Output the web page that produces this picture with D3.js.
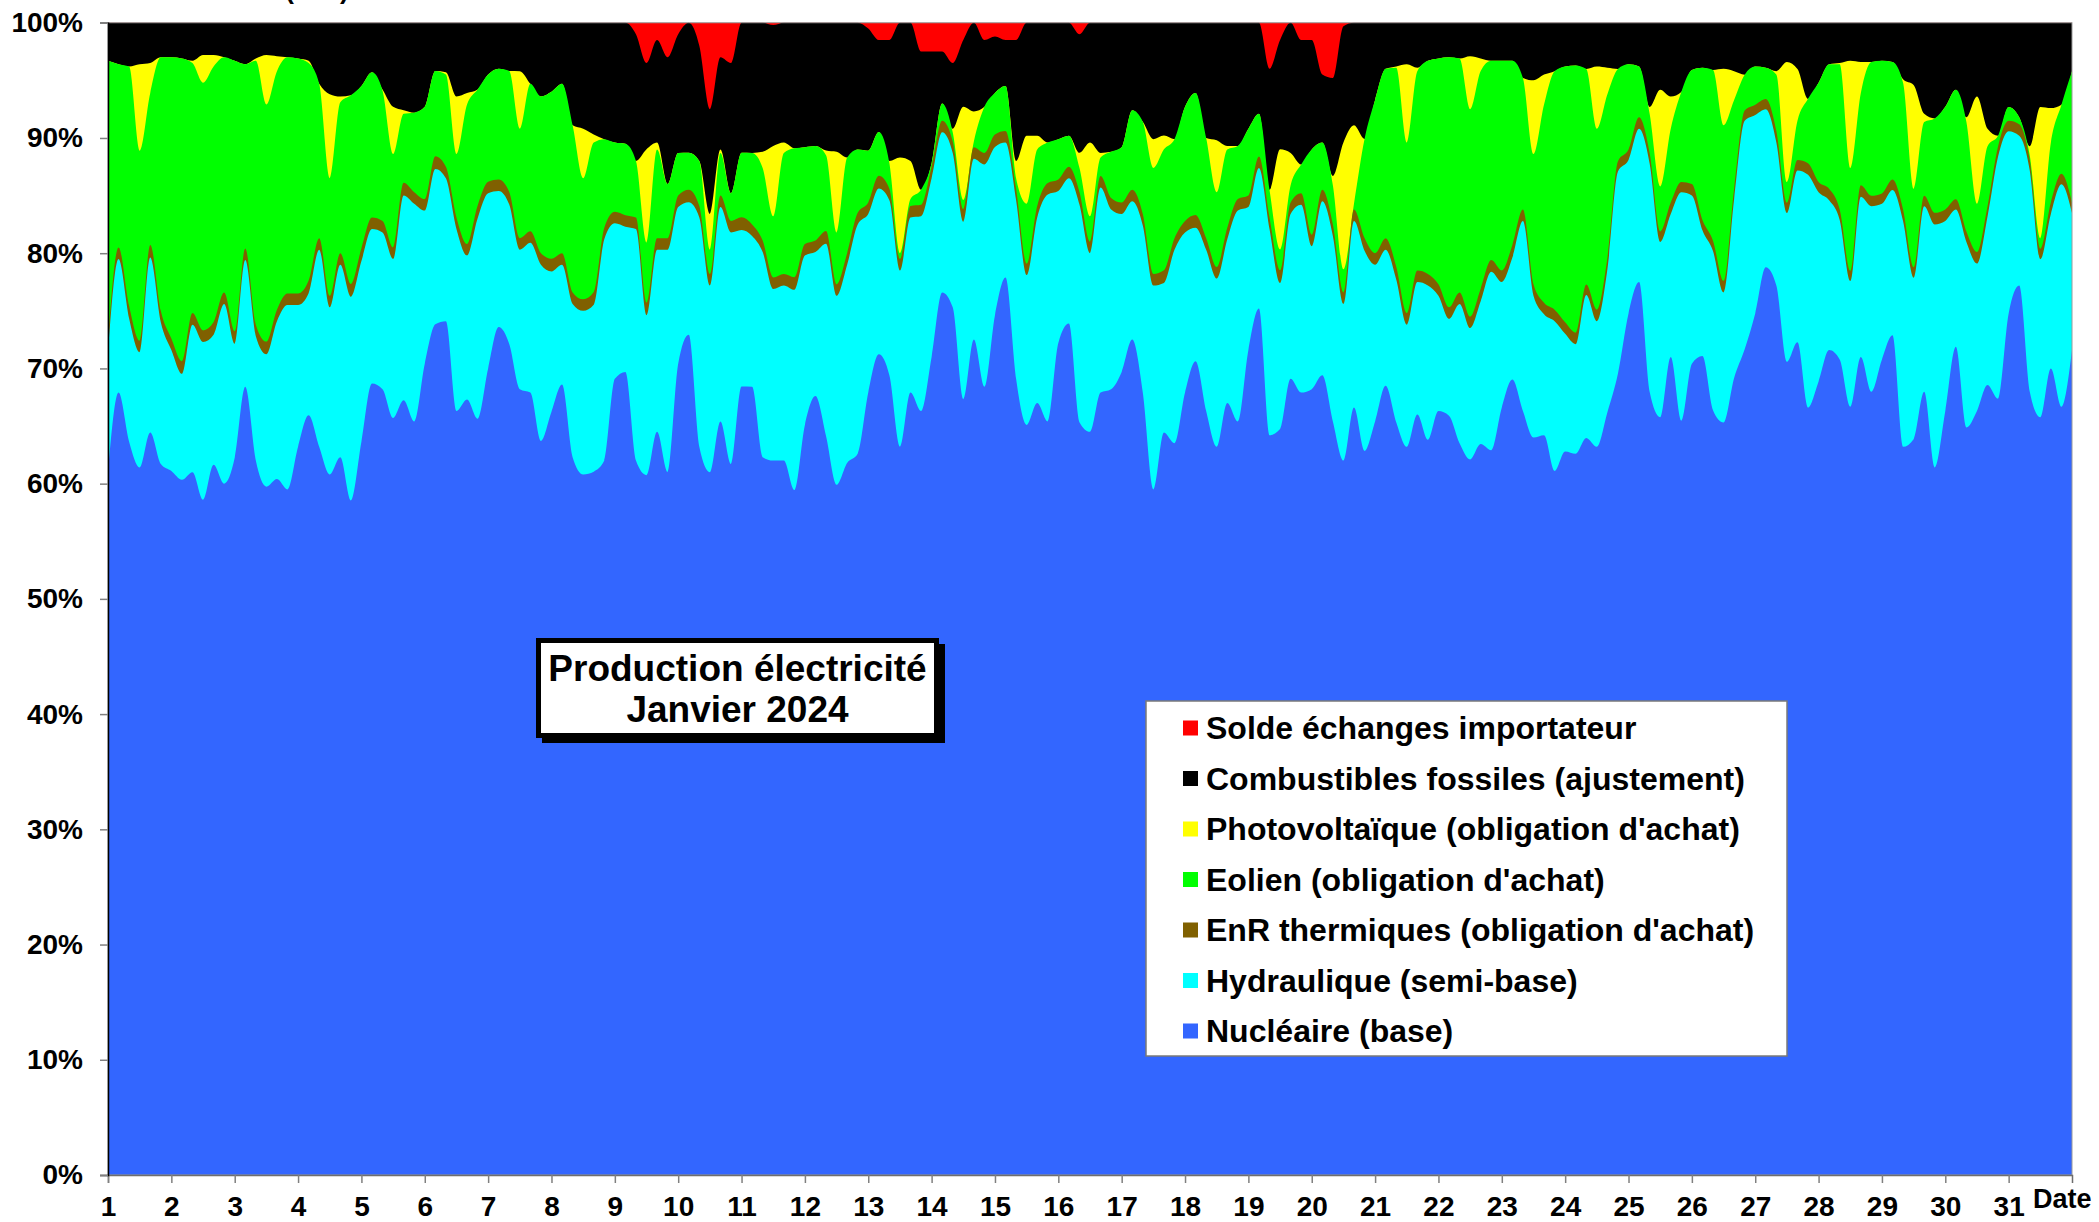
<!DOCTYPE html>
<html><head><meta charset="utf-8">
<script src="https://cdn.jsdelivr.net/npm/d3@7"></script>
<style>
body{margin:0;background:#fff;}
svg{display:block;font-family:"Liberation Sans",Arial,Helvetica,sans-serif;font-weight:bold;}
</style></head><body>
<svg id="chart" width="2099" height="1222"></svg>
<script>
// ---------- DATA (shares in %, sampled every 4 hours, Jan 1 00h -> Feb 1 00h) ----------
const dayLabels = ["1","2","3","4","5","6","7","8","9","10","11","12","13","14","15","16","17","18","19","20","21","22","23","24","25","26","27","28","29","30","31"];
const sampleHours = [0,4,8,12,16,20];
const yTickLabels = ["0%","10%","20%","30%","40%","50%","60%","70%","80%","90%","100%"];

const nuclear = [
61.0,67.9,63.7,61.4,64.5,61.7, 61.1,60.4,61.0,58.6,61.7,60.0, 62.3,68.4,62.0,59.8,60.4,59.5,
63.2,66.0,63.2,60.8,62.3,58.6, 63.7,68.7,68.2,65.7,67.3,65.4, 70.4,73.9,74.1,66.3,67.3,65.7,
70.0,73.6,72.2,68.2,67.9,63.7, 66.3,68.6,62.3,60.8,61.1,62.0, 69.1,69.7,62.0,60.8,64.5,61.0,
70.4,73.0,63.2,61.0,65.4,61.7, 68.5,68.4,62.3,62.0,62.0,59.5, 65.1,67.6,64.2,59.9,61.8,62.6,
67.9,71.3,69.4,63.2,67.9,66.3, 71.0,76.6,75.3,67.4,72.5,68.4, 74.7,77.9,69.1,65.1,67.0,65.4,
72.2,73.9,65.4,64.5,67.9,68.2, 69.7,72.5,67.9,59.5,64.5,63.5, 67.9,70.7,66.3,63.2,67.0,65.4,
71.6,75.2,64.2,64.8,69.1,67.9, 68.2,69.4,65.4,62.0,66.6,62.9, 65.4,68.5,65.4,63.2,66.0,63.8,
66.3,65.9,63.5,62.1,63.5,62.9, 66.6,69.1,66.3,64.0,64.2,61.1, 62.8,62.6,63.9,63.2,66.2,69.5,
74.7,77.5,67.9,65.7,71.0,65.4, 70.4,71.0,66.3,65.3,69.1,71.6, 74.7,78.7,77.2,70.5,72.2,66.6,
68.8,71.6,70.7,66.6,71.0,67.9, 70.7,72.8,63.2,63.8,67.9,61.4, 66.3,71.8,64.8,66.3,68.5,67.3,
74.7,77.2,67.9,65.7,70.0,66.6, 71.5];

const hydro = [
10.4,11.6,10.7,10.0,15.2,12.3, 10.5,9.2,12.8,13.7,11.3,15.6, 9.9,11.0,10.8,11.5,13.7,16.0,
12.3,10.6,17.1,14.5,16.7,17.7, 15.7,13.4,13.6,13.8,17.8,18.9, 13.3,13.5,12.4,15.8,12.5,17.4,
15.2,11.8,12.1,12.1,13.0,15.3, 12.2,10.4,13.3,14.2,14.5,19.2, 13.5,12.6,20.1,13.9,15.8,19.3,
13.6,11.5,19.9,16.2,18.6,20.1, 13.6,13.1,17.8,14.9,15.2,17.4, 14.7,12.5,16.7,16.4,17.2,19.9,
15.5,14.4,15.2,15.3,15.2,16.9, 15.5,13.9,13.4,15.4,15.7,19.3, 14.6,11.7,15.5,13.0,16.1,19.7,
13.2,12.6,18.9,15.5,17.8,15.6, 13.7,12.0,14.5,17.7,13.0,16.8, 13.9,11.6,14.0,14.6,14.2,18.3,
12.4,12.2,17.9,12.7,14.3,16.3, 12.4,15.1,16.1,13.6,16.2,17.4, 13.6,11.8,12.4,10.6,11.5,13.4,
10.0,8.4,12.1,11.4,12.4,15.5, 10.9,10.6,16.5,12.3,10.5,13.0, 10.2,9.5,12.4,10.9,12.4,17.5,
13.3,13.3,19.8,15.2,12.4,19.8, 14.6,10.9,13.8,11.3,15.5,19.8, 17.2,13.7,12.4,12.9,14.9,20.2,
16.4,13.0,12.1,10.9,13.9,16.1, 13.5,12.6,19.6,14.0,16.1,21.1, 16.5,11.9,16.1,12.8,14.6,21.0,
15.8,13.0,19.2,13.7,13.4,19.3, 11.9];

const thermal = [
1.1,1.0,1.1,1.0,1.1,1.0, 1.0,1.1,1.0,1.0,1.1,1.0, 1.1,1.0,1.0,1.1,1.0,1.0,
1.0,1.1,1.0,1.0,1.0,1.1, 1.1,1.0,1.0,1.0,1.1,1.0, 1.0,1.1,1.0,1.0,1.0,1.1,
1.0,1.0,1.1,1.0,1.0,1.0, 1.1,1.0,1.0,1.0,1.1,1.0, 1.0,1.0,1.0,1.1,1.0,1.0,
1.0,1.1,1.0,1.0,1.0,1.0, 1.1,1.0,1.0,1.0,1.0,1.1, 1.0,1.0,1.1,1.0,1.0,1.0,
1.0,1.1,1.0,1.0,1.0,1.0, 1.0,1.0,1.0,1.1,1.0,1.0, 1.1,1.0,1.0,1.0,1.0,1.0,
1.0,1.0,1.1,1.0,1.0,1.0, 1.0,1.0,1.0,1.0,1.1,1.0, 1.0,1.1,1.0,1.0,1.0,1.0,
1.0,1.0,1.0,1.1,1.0,1.0, 1.0,1.0,1.0,1.0,1.0,1.1, 1.0,1.0,1.1,1.0,1.0,1.0,
1.0,1.0,1.0,1.0,1.1,1.0, 1.0,1.1,1.0,1.0,1.0,1.0, 1.0,1.0,0.9,1.0,1.0,0.9,
0.9,1.0,0.9,0.9,1.0,0.9, 1.0,0.9,0.9,1.0,0.9,0.9, 0.9,0.9,1.0,0.9,0.9,1.0,
0.9,1.0,0.9,0.9,1.0,0.9, 0.9,0.9,1.0,0.9,0.9,1.0, 1.0,0.9,0.9,1.0,0.9,0.9,
0.9,1.0,0.9,0.9,1.0,0.9, 0.9];

const wind = [
24.3,15.9,20.8,16.5,13.2,22.0, 24.4,26.3,21.7,21.5,22.2,20.4, 23.5,16.0,22.9,20.6,20.7,20.5,
20.4,18.9,13.4,10.2,13.1,16.4, 14.1,12.6,11.3,8.1,6.0,6.9, 8.0,7.4,8.0,5.5,12.1,10.1,
9.3,9.6,10.5,9.5,12.8,13.6, 14.5,14.7,14.5,10.5,13.0,7.7, 6.0,6.2,4.9,5.2,7.7,4.7,
3.7,3.2,3.9,2.1,3.7,2.4, 5.6,6.2,6.3,5.3,10.5,11.2, 8.4,8.2,6.6,4.5,8.3,5.5,
4.5,3.8,2.2,0.5,0.6,1.3, 0.3,1.5,0.8,0.8,0.5,4.0, 3.6,3.9,0.9,5.2,4.9,3.5,
3.5,2.7,2.1,2.2,1.6,4.0, 4.8,6.9,8.0,9.2,10.5,8.6, 9.9,10.6,8.7,6.5,6.8,4.6,
5.8,3.7,2.4,1.8,1.5,2.5, 7.4,4.1,3.4,2.0,0.5,8.6, 13.3,14.7,17.3,14.8,17.3,18.5,
19.6,21.7,20.3,18.0,18.9,17.3, 18.2,16.0,11.4,11.3,17.2,20.7, 22.2,23.2,18.7,15.7,14.2,8.0,
7.4,4.4,3.4,3.9,6.4,7.8, 9.9,13.2,14.8,13.5,7.7,3.1, 3.3,2.7,4.9,1.8,3.4,5.6,
8.6,10.8,12.6,8.9,8.0,11.6, 11.5,10.2,11.0,6.8,6.4,8.2, 8.9,9.5,9.5,4.2,5.2,0.9,
1.2,0.6,0.4,0.9,5.2,6.0, 11.4];

const solar = [
0,0,0,7.5,2.6,0, 0,0,0.2,2.4,1.0,0, 0,0,0.2,4.3,1.3,0,
0,0.2,0,7.3,0.5,0, 0,0,0.1,4.1,0.3,0, 0,0,0.2,5.0,1.0,0,
0,0,0,5.0,0,0, 0,0,0,4.3,0.7,0, 0,0,0,8.1,0.6,0,
0,0,0,3.1,0.3,0, 0,0,1.4,6.1,0.9,0, 0,0,0.4,7.0,0,0,
0,0,0.2,8.3,3.3,0, 0,0,0.3,8.1,2.6,0, 0,0,1.5,5.9,1.2,0,
0,0,1.3,6.4,0.4,0, 0,0,0,2.5,1.2,0, 0,0,0,4.5,0.3,0,
0,0,0,8.7,2.8,0, 0,0,0.8,11.0,6.8,0, 0,0,0.1,6.8,0.3,0,
0,0,0,4.6,1.1,0, 0,0,0,6.4,2.6,0, 0,0,0,5.4,2.3,0,
0,0,0.6,8.4,2.8,0, 0,0,0,4.9,2.5,0, 0,0,0.3,10.4,4.5,0,
0,0,0.1,9.3,2.7,0, 0,0,0.3,9.0,0.7,0, 0,0,0.4,9.3,1.5,0,
0,0,0.8,11.4,3.0,0, 0];

const fossil = [
3.3,3.6,3.8,3.6,3.5,3.0, 3.0,3.1,3.3,2.8,2.8,3.0, 3.3,3.6,3.1,2.8,2.9,3.0,
3.1,3.3,5.3,6.2,6.4,6.3, 5.5,4.3,5.8,7.3,7.6,7.8, 7.3,4.2,4.3,6.4,6.1,5.8,
4.5,4.0,4.2,4.2,5.3,6.4, 6.0,5.3,8.9,9.2,9.7,10.1, 10.4,10.5,11.0,7.5,8.9,11.0,
10.3,11.3,10.0,9.1,8.0,11.3, 11.3,11.3,11.2,10.5,10.4,10.9, 10.8,10.7,11.1,11.2,11.7,11.0,
10.6,8.0,10.5,11.7,12.0,12.0, 9.7,4.5,5.7,5.8,7.7,5.8, 4.9,4.0,10.5,9.8,9.8,10.4,
10.1,9.8,10.3,10.4,11.3,11.2, 10.8,7.6,8.6,10.1,9.8,10.1, 7.3,6.1,10.0,10.2,10.7,10.7,
9.2,7.9,10.5,9.5,11.3,10.8, 9.5,5.9,8.5,10.1,8.9,10.1, 6.7,4.0,3.8,3.6,3.9,3.3,
3.1,3.0,3.1,2.9,3.1,3.3, 3.3,3.3,4.8,5.0,4.5,4.2, 3.8,3.7,4.0,3.8,3.9,4.0,
3.6,3.8,7.3,5.8,6.4,6.0, 4.1,3.9,4.1,4.0,4.2,4.5, 3.8,3.9,4.2,3.4,4.0,6.6,
5.2,3.6,3.5,3.3,3.4,3.4, 3.3,3.4,4.9,5.4,7.9,8.3, 7.3,5.8,8.2,6.4,9.2,9.8,
7.3,8.2,10.7,7.3,7.4,7.1, 4.2];

const imports = [
0,0,0,0,0,0, 0,0,0,0,0,0, 0,0,0,0,0,0,
0,0,0,0,0,0, 0,0,0,0,0,0, 0,0,0,0,0,0,
0,0,0,0,0,0, 0,0,0,0,0,0, 0,0,1.0,3.5,1.5,3.0,
1.0,0,2.0,7.5,3.0,3.5, 0,0,0,0.2,0,0, 0,0,0,0,0,0,
0.5,1.5,1.5,0,0,2.5, 2.5,2.5,3.5,1.5,0,1.5, 1.2,1.5,1.5,0,0,0,
0,0,1.0,0,0,0, 0,0,0,0,0,0, 0,0,0,0,0,0,
0,0,4.0,1.5,0,1.5, 1.5,4.5,4.8,0.3,0,0, 0,0,0,0,0,0,
0,0,0,0,0,0, 0,0,0,0,0,0, 0,0,0,0,0,0,
0,0,0,0,0,0, 0,0,0,0,0,0, 0,0,0,0,0,0,
0,0,0,0,0,0, 0,0,0,0,0,0, 0,0,0,0,0,0,
0,0,0,0,0,0, 0];

const seriesNames = ["Nucléaire (base)","Hydraulique (semi-base)","EnR thermiques (obligation d'achat)","Eolien (obligation d'achat)","Photovoltaïque (obligation d'achat)","Combustibles fossiles (ajustement)","Solde échanges importateur"];
const seriesColors = ["#3366ff","#00ffff","#806000","#00ff00","#ffff00","#000000","#ff0000"];

// ---------- CHART ----------
const svg = d3.select("#chart");
const P = {left:108, right:2072, top:22.75, bottom:1175};
const keys = ["nuclear","hydro","thermal","wind","solar","fossil","imports"];
const values = {nuclear, hydro, thermal, wind, solar, fossil, imports};

const times = [];
dayLabels.forEach((d,i)=>sampleHours.forEach(h=>times.push(+d + h/24)));
times.push(dayLabels.length + 1);

const rows = times.map((t,i)=>{const r={t}; keys.forEach(k=>r[k]=values[k][i]); return r;});
const layers = d3.stack().keys(keys).offset(d3.stackOffsetExpand)(rows);

const x = d3.scaleLinear().domain([1, dayLabels.length + 1]).range([P.left, P.right]);
const y = d3.scaleLinear().domain([0, 1]).range([P.bottom, P.top]);

const area = d3.area()
  .x(d=>x(d.data.t))
  .y0(y(0))
  .y1(d=>y(d[1]))
  .curve(d3.curveMonotoneX);

const gPlot = svg.append("g");
layers.slice().reverse().forEach(L=>{
  gPlot.append("path").attr("d", area(L)).attr("fill", seriesColors[keys.indexOf(L.key)]);
});

// plot frame (top/right grey)
svg.append("rect").attr("x",P.left).attr("y",P.top).attr("width",P.right-P.left).attr("height",P.bottom-P.top)
  .attr("fill","none").attr("stroke","#9a9a9a").attr("stroke-width",1);

// x axis
const xAxis = d3.axisBottom(x).tickValues(dayLabels.map(Number)).tickFormat((d,i)=>dayLabels[i])
  .tickSize(8).tickPadding(13);
const gx = svg.append("g").attr("transform",`translate(0,${P.bottom})`).call(xAxis);
gx.select(".domain").attr("stroke","#6e6e6e").attr("stroke-width",1.5);
gx.selectAll(".tick line").attr("stroke","#808080").attr("stroke-width",1.5);
gx.selectAll("text").attr("font-size",28).attr("font-weight","bold").attr("fill","#000")
  .attr("font-family",'"Liberation Sans",Arial,sans-serif');

// y axis
const yAxis = d3.axisLeft(y).tickValues(d3.range(0,11).map(i=>i/10)).tickFormat((d,i)=>yTickLabels[i])
  .tickSize(8).tickPadding(17);
const gy = svg.append("g").attr("transform",`translate(${P.left},0)`).call(yAxis);
gy.select(".domain").attr("stroke","#000").attr("stroke-width",1.5);
gy.selectAll(".tick line").attr("stroke","#808080").attr("stroke-width",1.5);
gy.selectAll("text").attr("font-size",28).attr("font-weight","bold").attr("fill","#000")
  .attr("font-family",'"Liberation Sans",Arial,sans-serif');

// axis title (x)
svg.append("text").attr("x",2033).attr("y",1208).attr("font-size",27).text("Date");
// cut-off top title
svg.append("text").attr("x",317).attr("y",-1.5).attr("text-anchor","middle").attr("font-size",26).text("(MW)");

// title box
svg.append("rect").attr("x",542).attr("y",644).attr("width",403).attr("height",99).attr("fill","#000");
svg.append("rect").attr("x",536).attr("y",638).attr("width",403).attr("height",100).attr("fill","#000");
svg.append("rect").attr("x",541).attr("y",643).attr("width",393).attr("height",90).attr("fill","#fff");
svg.append("text").attr("x",737.5).attr("y",681).attr("text-anchor","middle").attr("font-size",37).text("Production électricité");
svg.append("text").attr("x",737.5).attr("y",722).attr("text-anchor","middle").attr("font-size",37).text("Janvier 2024");

// legend
const gl = svg.append("g");
gl.append("rect").attr("x",1146).attr("y",701).attr("width",641).attr("height",355)
  .attr("fill","#fff").attr("stroke","#7a7a7a").attr("stroke-width",1.5);
const legendOrder = [6,5,4,3,2,1,0];
legendOrder.forEach((si,i)=>{
  const cy = 728 + i*50.5;
  gl.append("rect").attr("x",1183).attr("y",cy-7.5).attr("width",15).attr("height",15).attr("fill",seriesColors[si]);
  gl.append("text").attr("x",1206).attr("y",cy).attr("dy","0.35em").attr("font-size",32).text(seriesNames[si]);
});
</script>
</body></html>
